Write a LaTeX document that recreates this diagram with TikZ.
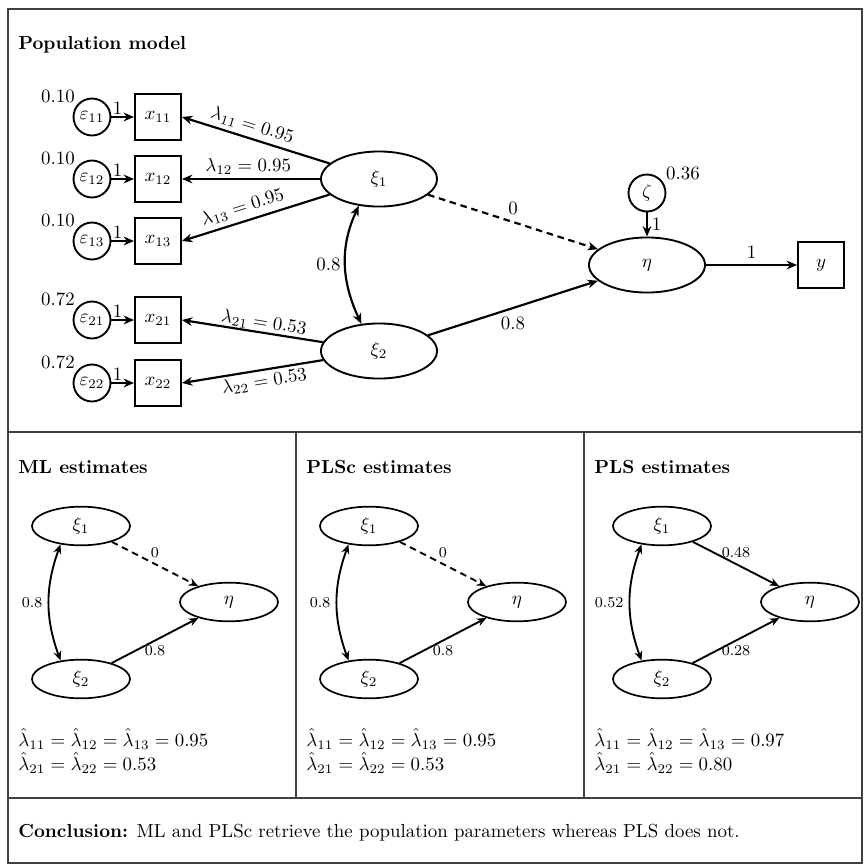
\documentclass[tikz,border=0pt]{standalone}
\usetikzlibrary{arrows.meta,shapes.geometric}
\begin{document}
\begin{tikzpicture}[x=0.53pt,y=-0.53pt,
  frame/.style={draw=black!75, line width=0.6pt},
  errc/.style={circle, draw, line width=1pt, minimum size=19.6pt, inner sep=0pt},
  obs/.style={rectangle, draw, line width=1pt, minimum size=24.4pt, inner sep=0pt},
  lat/.style={ellipse, draw, line width=1pt, minimum width=61.5pt, minimum height=29.2pt, inner sep=0pt},
  slat/.style={ellipse, draw, line width=0.9pt, minimum width=52pt, minimum height=20.5pt, inner sep=0pt},
  arr/.style={-{Stealth[length=5.5pt,width=4.6pt]}, line width=1.15pt},
  darr/.style={{Stealth[length=5.5pt,width=4.6pt]}-{Stealth[length=5.5pt,width=4.6pt]}, line width=1.15pt},
  sarr/.style={-{Stealth[length=5pt,width=4.2pt]}, line width=1pt},
  sdarr/.style={{Stealth[length=5pt,width=4.2pt]}-{Stealth[length=5pt,width=4.2pt]}, line width=1pt},
  dsh/.style={dash pattern=on 3.5pt off 2.5pt},
  ttl/.style={anchor=west, font=\bfseries, inner sep=0pt},
  lbl/.style={font=\footnotesize},
  txt/.style={anchor=west, inner sep=0pt},
  est/.style={anchor=west, inner sep=0pt, align=left}
]
\useasboundingbox (0,0) rectangle (864,865);
% frame
\draw[frame] (8,9) rectangle (862,863);
\draw[frame] (8,432) -- (862,432);
\draw[frame] (8,798) -- (862,798);
\draw[frame] (296,432) -- (296,798);
\draw[frame] (584,432) -- (584,798);

% ---------- population model ----------
\node[ttl] (t0) at (18,45) {Population model};

\node[errc] (e11) at (92,117) {$\varepsilon_{11}$};
\node[errc] (e12) at (92,179) {$\varepsilon_{12}$};
\node[errc] (e13) at (92,241) {$\varepsilon_{13}$};
\node[errc] (e21) at (92,320) {$\varepsilon_{21}$};
\node[errc] (e22) at (92,383) {$\varepsilon_{22}$};

\node[obs] (x11) at (158,117) {$x_{11}$};
\node[obs] (x12) at (158,179) {$x_{12}$};
\node[obs] (x13) at (158,241) {$x_{13}$};
\node[obs] (x21) at (158,320) {$x_{21}$};
\node[obs] (x22) at (158,383) {$x_{22}$};

\node (v11) at (58,96) {0.10};
\node (v12) at (58,158) {0.10};
\node (v13) at (58,220) {0.10};
\node (v21) at (58,299) {0.72};
\node (v22) at (58,362) {0.72};

\foreach \i in {11,12,13,21,22}{
  \draw[arr] (e\i) -- node[above, inner sep=1pt, pos=0.27] (o\i) {1} (x\i);
}

\node[lat] (xi1) at (379,179) {$\xi_1$};
\node[lat] (xi2) at (379,351) {$\xi_2$};
\node[lat] (eta) at (647,265) {$\eta$};
\node[errc] (zeta) at (647,193) {$\zeta$};
\node[obs] (yb) at (821,265) {$y$};
\node (zv) at (683,173) {0.36};

\draw[arr] (xi1) -- node[sloped, above, inner sep=2.2pt, pos=0.55] (l11) {$\lambda_{11} = 0.95$} (x11.east);
\draw[arr] (xi1) -- node[sloped, above, inner sep=1.9pt, pos=0.52] (l12) {$\lambda_{12} = 0.95$} (x12.east);
\draw[arr] (xi1) -- node[sloped, above, inner sep=2.6pt, pos=0.56] (l13) {$\lambda_{13} = 0.95$} (x13.east);
\draw[arr] (xi2) -- node[sloped, above, inner sep=0.4pt, pos=0.43] (l21) {$\lambda_{21} = 0.53$} (x21.east);
\draw[arr] (xi2) -- node[sloped, below, inner sep=1.5pt, pos=0.43] (l22) {$\lambda_{22} = 0.53$} (x22.east);

\draw[darr] (xi1.233) to[out=245, in=115] node[left, inner sep=2pt] (c08) {0.8} (xi2.123);
\draw[arr, dsh] (xi1) -- node[above, inner sep=3pt] (g0) {0} (eta);
\draw[arr] (xi2) -- node[below, inner sep=4pt] (g8) {0.8} (eta);
\draw[arr] (zeta) -- node[right, inner sep=2pt] (zl) {1} (eta);
\draw[arr] (eta) -- node[above, inner sep=3pt] (yl) {1} (yb);

% ---------- ML estimates ----------
\node[ttl] (tml) at (18,467) {ML estimates};
\node[slat] (ms1) at (81,526) {$\xi_1$};
\node[slat] (meta) at (229,602) {$\eta$};
\node[slat] (ms2) at (81,679) {$\xi_2$};
\draw[sarr, dsh] (ms1) -- node[lbl, above, inner sep=3pt] (mg0) {0} (meta);
\draw[sarr] (ms2) -- node[lbl, below, inner sep=2pt] (mg8) {0.8} (meta);
\draw[sdarr] (ms1.222) to[out=250, in=110] node[lbl, left, inner sep=3pt] (mc) {0.8} (ms2.138);
\node[est] (mh) at (18,751) {$\hat\lambda_{11} = \hat\lambda_{12} = \hat\lambda_{13} = 0.95$\\[0.8pt]$\hat\lambda_{21} = \hat\lambda_{22} = 0.53$};

% ---------- PLSc estimates ----------
\node[ttl] (tpc) at (306,467) {PLSc estimates};
\node[slat] (cs1) at (369,526) {$\xi_1$};
\node[slat] (ceta) at (517,602) {$\eta$};
\node[slat] (cs2) at (369,679) {$\xi_2$};
\draw[sarr, dsh] (cs1) -- node[lbl, above, inner sep=3pt] (cg0) {0} (ceta);
\draw[sarr] (cs2) -- node[lbl, below, inner sep=2pt] (cg8) {0.8} (ceta);
\draw[sdarr] (cs1.222) to[out=250, in=110] node[lbl, left, inner sep=3pt] (cc) {0.8} (cs2.138);
\node[est] (ch) at (306,751) {$\hat\lambda_{11} = \hat\lambda_{12} = \hat\lambda_{13} = 0.95$\\[0.8pt]$\hat\lambda_{21} = \hat\lambda_{22} = 0.53$};

% ---------- PLS estimates ----------
\node[ttl] (tp) at (594,467) {PLS estimates};
\node[slat] (ps1) at (662,526) {$\xi_1$};
\node[slat] (peta) at (810,602) {$\eta$};
\node[slat] (ps2) at (662,679) {$\xi_2$};
\draw[sarr] (ps1) -- node[lbl, above, inner sep=3pt] (pg0) {0.48} (peta);
\draw[sarr] (ps2) -- node[lbl, below, inner sep=2pt] (pg8) {0.28} (peta);
\draw[sdarr] (ps1.222) to[out=250, in=110] node[lbl, left, inner sep=3pt] (pc) {0.52} (ps2.138);
\node[est] (ph) at (594,751) {$\hat\lambda_{11} = \hat\lambda_{12} = \hat\lambda_{13} = 0.97$\\[0.8pt]$\hat\lambda_{21} = \hat\lambda_{22} = 0.80$};

% ---------- conclusion ----------
\node[txt] (con) at (18,833) {\textbf{Conclusion:} ML and PLSc retrieve the population parameters whereas PLS does not.};
\end{tikzpicture}
\end{document}
